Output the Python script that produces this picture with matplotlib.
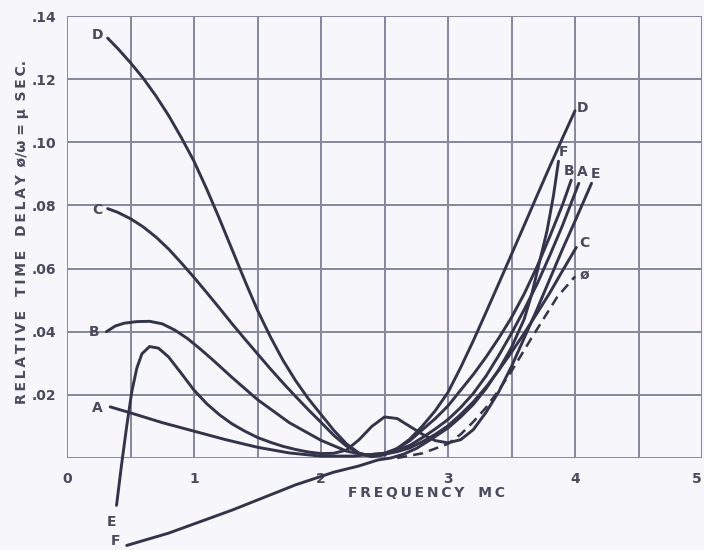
import matplotlib
matplotlib.use("Agg")
import matplotlib.pyplot as plt

# ---------------- data ----------------
A_x = [0.34, 0.5, 0.75, 1.0, 1.25, 1.5, 1.75, 2.0, 2.25, 2.5, 2.6, 2.7, 2.8, 2.9, 3.0, 3.1, 3.2, 3.3, 3.4, 3.5, 3.6, 3.7, 3.8, 3.9, 4.03]
A_y = [0.0162, 0.0143, 0.0112, 0.0085, 0.0058, 0.0034, 0.0016, 0.0006, 0.0006, 0.0015, 0.0025, 0.004, 0.0065, 0.0092, 0.0122, 0.016, 0.0205, 0.026, 0.0325, 0.0395, 0.047, 0.055, 0.064, 0.0735, 0.087]

B_x = [0.31, 0.38, 0.45, 0.55, 0.65, 0.75, 0.85, 0.95, 1.05, 1.15, 1.3, 1.5, 1.75, 2.0, 2.2, 2.35, 2.5, 2.6, 2.7, 2.8, 2.9, 3.0, 3.1, 3.2, 3.3, 3.4, 3.5, 3.6, 3.7, 3.8, 3.9, 3.97]
B_y = [0.040, 0.0418, 0.0427, 0.0432, 0.0433, 0.0425, 0.0405, 0.0378, 0.0345, 0.031, 0.0255, 0.0185, 0.0112, 0.0056, 0.0022, 0.0009, 0.0015, 0.003, 0.0055, 0.009, 0.0125, 0.0165, 0.0215, 0.0265, 0.032, 0.038, 0.0445, 0.052, 0.0605, 0.070, 0.080, 0.088]

C_x = [0.32, 0.4, 0.5, 0.6, 0.7, 0.8, 0.9, 1.0, 1.1, 1.2, 1.3, 1.4, 1.5, 1.6, 1.7, 1.8, 1.9, 2.0, 2.1, 2.2, 2.3, 2.4, 2.5, 2.6, 2.7, 2.8, 2.9, 3.0, 3.1, 3.2, 3.3, 3.4, 3.5, 3.6, 3.7, 3.8, 3.9, 4.01]
C_y = [0.079, 0.0778, 0.0758, 0.0732, 0.0700, 0.0662, 0.0618, 0.0572, 0.0524, 0.0475, 0.0425, 0.0377, 0.0330, 0.0283, 0.0238, 0.0195, 0.0153, 0.0113, 0.0072, 0.0038, 0.0015, 0.0006, 0.0012, 0.002, 0.0032, 0.0052, 0.0075, 0.0102, 0.0138, 0.0178, 0.0225, 0.0278, 0.0335, 0.0395, 0.0458, 0.0522, 0.0592, 0.0667]

D_x = [0.32, 0.4, 0.5, 0.6, 0.7, 0.8, 0.9, 1.0, 1.1, 1.2, 1.3, 1.4, 1.5, 1.6, 1.7, 1.8, 1.9, 2.0, 2.1, 2.2, 2.3, 2.4, 2.5, 2.6, 2.7, 2.8, 2.9, 3.0, 3.1, 3.2, 3.3, 3.4, 3.5, 3.6, 3.7, 3.8, 3.9, 4.0]
D_y = [0.133, 0.1297, 0.1252, 0.1203, 0.1147, 0.1085, 0.1015, 0.0940, 0.0852, 0.0758, 0.0660, 0.0562, 0.0468, 0.0385, 0.0310, 0.0245, 0.0188, 0.0138, 0.0088, 0.0045, 0.0015, 0.0004, 0.001, 0.003, 0.006, 0.0102, 0.015, 0.0208, 0.0287, 0.0372, 0.0462, 0.0553, 0.0645, 0.0737, 0.083, 0.0922, 0.1012, 0.110]

E_x = [0.39, 0.43, 0.47, 0.51, 0.55, 0.59, 0.65, 0.72, 0.8, 0.9, 1.0, 1.1, 1.2, 1.3, 1.4, 1.5, 1.6, 1.7, 1.8, 1.9, 2.0, 2.1, 2.2, 2.3, 2.4, 2.5, 2.6, 2.7, 2.8, 2.9, 3.0, 3.1, 3.2, 3.3, 3.4, 3.5, 3.6, 3.7, 3.8, 3.9, 4.0, 4.13]
E_y = [-0.015, -0.002, 0.010, 0.021, 0.0285, 0.033, 0.0353, 0.0348, 0.032, 0.0268, 0.0215, 0.0172, 0.0137, 0.0108, 0.0085, 0.0065, 0.005, 0.0037, 0.0027, 0.0019, 0.0014, 0.0015, 0.0025, 0.0058, 0.010, 0.013, 0.0125, 0.010, 0.0075, 0.0055, 0.0048, 0.0058, 0.009, 0.0145, 0.021, 0.029, 0.038, 0.047, 0.0565, 0.066, 0.075, 0.087]

F_x = [0.47, 0.8, 1.3, 1.8, 2.1, 2.3, 2.45, 2.55, 2.65, 2.75, 2.85, 3.0, 3.1, 3.2, 3.3, 3.4, 3.5, 3.6, 3.66, 3.72, 3.78, 3.83, 3.87]
F_y = [-0.0277, -0.0238, -0.0165, -0.0085, -0.0045, -0.0025, -0.0006, 0.0, 0.0012, 0.003, 0.0055, 0.0095, 0.013, 0.017, 0.022, 0.028, 0.035, 0.044, 0.052, 0.062, 0.072, 0.083, 0.094]

PHI_x = [2.6, 2.8, 3.0, 3.1, 3.2, 3.3, 3.4, 3.5, 3.65, 3.86, 4.0]
PHI_y = [0.0, 0.0015, 0.0045, 0.0075, 0.0115, 0.016, 0.0215, 0.0275, 0.0375, 0.051, 0.0575]

x_ticks = [0, 1, 2, 3, 4, 5]
x_tick_labels = ["0", "1", "2", "3", "4", "5"]
y_ticks = [0.02, 0.04, 0.06, 0.08, 0.10, 0.12, 0.14]
y_tick_labels = [".02", ".04", ".06", ".08", ".10", ".12", ".14"]

# curve-end labels: (text, x, y)
labels = [
    ("D", 0.24, 0.134), ("C", 0.24, 0.0787), ("B", 0.21, 0.040), ("A", 0.24, 0.0159),
    ("E", 0.35, -0.0203), ("F", 0.38, -0.0262),
    ("D", 4.06, 0.111), ("F", 3.91, 0.0968), ("B", 3.95, 0.0908), ("A", 4.06, 0.0905),
    ("E", 4.16, 0.090), ("C", 4.07, 0.068), ("ø", 4.07, 0.058),
]

# ---------------- style ----------------
BG = "#f6f6fb"
INK = "#33334a"
GRID = "#86869c"
TXT = "#4a4a5c"

fig = plt.figure(figsize=(7.04, 5.5), dpi=100, facecolor=BG)
ax = fig.add_axes([67 / 704, 1 - 458 / 550, (702 - 67) / 704, (458 - 16) / 550])
ax.set_facecolor(BG)
ax.set_xlim(0, 5)
ax.set_ylim(0, 0.14)

# grid
for gx in [i * 0.5 for i in range(11)]:
    ax.axvline(gx, color=GRID, lw=1.4, zorder=1)
for gy in [i * 0.02 for i in range(8)]:
    ax.axhline(gy, color=GRID, lw=1.4, zorder=1)
for s in ax.spines.values():
    s.set_visible(False)

ax.set_xticks(x_ticks)
ax.set_xticklabels(x_tick_labels)
ax.set_yticks(y_ticks)
ax.set_yticklabels(y_tick_labels)
ax.tick_params(length=0, labelsize=10, colors=TXT, pad=8)
ax.tick_params(axis="x", pad=10)
for t in ax.get_xticklabels() + ax.get_yticklabels():
    t.set_fontweight("bold")
ax.get_xticklabels()[-1].set_horizontalalignment("right")

curves = [(A_x, A_y), (B_x, B_y), (C_x, C_y), (D_x, D_y), (E_x, E_y), (F_x, F_y)]
for cx, cy in curves:
    ax.plot(cx, cy, color=INK, lw=2.1, solid_capstyle="round", solid_joinstyle="round",
            clip_on=False, zorder=3)
ax.plot(PHI_x, PHI_y, color=INK, lw=1.8, linestyle=(0, (4, 2.5)), clip_on=False, zorder=3)

for t, lx, ly in labels:
    ax.text(lx, ly, t, ha="center", va="center", fontsize=10, fontweight="bold",
            color=TXT, clip_on=False)

fig.text(348 / 704, 1 - 493 / 550, "F\u2009R\u2009E\u2009Q\u2009U\u2009E\u2009N\u2009C\u2009Y\u2003M\u2009C",
         ha="left", va="center", fontsize=10, fontweight="bold", color=TXT)
fig.text(22 / 704, 1 - 232 / 550,
         "R\u2009E\u2009L\u2009A\u2009T\u2009I\u2009V\u2009E\u2003T\u2009I\u2009M\u2009E\u2003D\u2009E\u2009L\u2009A\u2009Y\u2009 ø/ω = μ\u2009 S\u2009E\u2009C.",
         rotation=90, ha="center", va="center", fontsize=10, fontweight="bold", color=TXT)

fig.savefig("out.png", dpi=100, facecolor=BG)
